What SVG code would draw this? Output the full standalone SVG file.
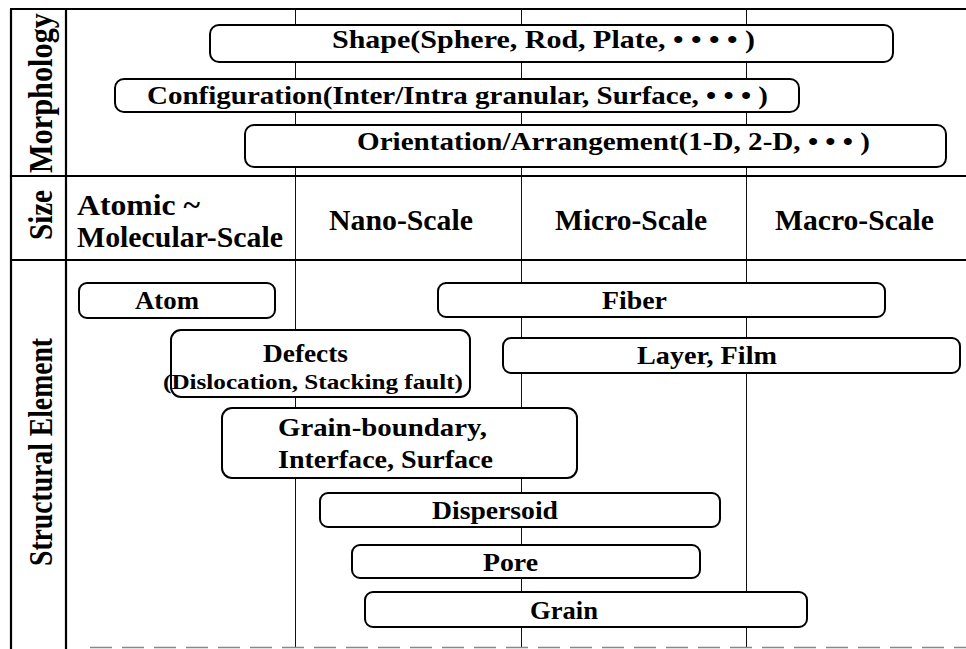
<svg xmlns="http://www.w3.org/2000/svg" width="966" height="649" viewBox="0 0 966 649">
<style>
  .frame { stroke: #000; stroke-width: 2.2; fill: none; }
  .grid { stroke: #111; stroke-width: 1; fill: none; }
  .dash { stroke: #888; stroke-width: 1.5; stroke-dasharray: 22 10; fill: none; }
  .box { fill: #fff; stroke: #000; stroke-width: 2; }
  text { font-family: "Liberation Serif", "Times New Roman", serif; font-weight: bold; fill: #000; }
  .m { font-size: 26px; }
  .s { font-size: 30px; }
  .e { font-size: 26px; }
  .sm { font-size: 21px; }
  .h { font-size: 30px; }
</style>
<rect width="966" height="649" fill="#fff"/>
<g id="grid">
  <line class="grid" x1="295.5" y1="9" x2="295.5" y2="648"/>
  <line class="grid" x1="521.5" y1="9" x2="521.5" y2="648"/>
  <line class="grid" x1="746.5" y1="9" x2="746.5" y2="648"/>
  <line class="dash" x1="90" y1="647.5" x2="966" y2="647.5"/>
  <line class="frame" x1="10" y1="9" x2="966" y2="9"/>
  <line class="frame" x1="11" y1="9" x2="11" y2="649"/>
  <line class="frame" x1="66" y1="9" x2="66" y2="649" stroke-width="2.6"/>
  <line class="frame" x1="10" y1="176" x2="966" y2="176"/>
  <line class="frame" x1="10" y1="260" x2="966" y2="260"/>
</g>
<g id="headers">
  <text class="h" text-anchor="middle" textLength="160" lengthAdjust="spacingAndGlyphs" transform="translate(52,93) scale(1.15,1) rotate(-90)">Morphology</text>
  <text class="h" text-anchor="middle" textLength="50" lengthAdjust="spacingAndGlyphs" transform="translate(52,215) scale(1.15,1) rotate(-90)">Size</text>
  <text class="h" text-anchor="middle" textLength="228" lengthAdjust="spacingAndGlyphs" transform="translate(52,452) scale(1.15,1) rotate(-90)">Structural Element</text>
</g>
<g id="size-labels">
  <text class="s" x="77" y="215" textLength="123" lengthAdjust="spacingAndGlyphs">Atomic ~</text>
  <text class="s" x="77" y="247" textLength="206" lengthAdjust="spacingAndGlyphs">Molecular-Scale</text>
  <text class="s" x="329" y="230" textLength="144" lengthAdjust="spacingAndGlyphs">Nano-Scale</text>
  <text class="s" x="555" y="230" textLength="152" lengthAdjust="spacingAndGlyphs">Micro-Scale</text>
  <text class="s" x="775" y="230" textLength="159" lengthAdjust="spacingAndGlyphs">Macro-Scale</text>
</g>
<g id="shape">
  <rect class="box" x="210" y="25" width="683" height="37" rx="9"/>
  <text class="m" x="332" y="48" textLength="423" lengthAdjust="spacingAndGlyphs">Shape(Sphere, Rod, Plate, • • • •  )</text>
</g>
<g id="configuration">
  <rect class="box" x="115" y="79" width="684" height="33" rx="9"/>
  <text class="m" x="147" y="104" textLength="621" lengthAdjust="spacingAndGlyphs">Configuration(Inter/Intra granular, Surface, • • • )</text>
</g>
<g id="orientation">
  <rect class="box" x="245" y="125" width="701" height="42" rx="9"/>
  <text class="m" x="357" y="150" textLength="513" lengthAdjust="spacingAndGlyphs">Orientation/Arrangement(1-D, 2-D, • • • )</text>
</g>
<g id="atom">
  <rect class="box" x="79" y="283" width="196" height="35" rx="8"/>
  <text class="e" x="135" y="309" textLength="64" lengthAdjust="spacingAndGlyphs">Atom</text>
</g>
<g id="fiber">
  <rect class="box" x="438" y="283" width="447" height="34" rx="8"/>
  <text class="e" x="602" y="309" textLength="65" lengthAdjust="spacingAndGlyphs">Fiber</text>
</g>
<g id="defects">
  <rect class="box" x="171" y="330" width="299" height="67" rx="10"/>
  <text class="e" x="263" y="362" textLength="85" lengthAdjust="spacingAndGlyphs">Defects</text>
  <text class="sm" x="163" y="389" textLength="300" lengthAdjust="spacingAndGlyphs">(Dislocation, Stacking fault)</text>
</g>
<g id="layer-film">
  <rect class="box" x="503" y="338" width="457" height="35" rx="8"/>
  <text class="e" x="637" y="364" textLength="140" lengthAdjust="spacingAndGlyphs">Layer, Film</text>
</g>
<g id="grain-boundary">
  <rect class="box" x="222" y="408" width="355" height="70" rx="10"/>
  <text class="e" x="278" y="436" textLength="209" lengthAdjust="spacingAndGlyphs">Grain-boundary,</text>
  <text class="e" x="278" y="468" textLength="215" lengthAdjust="spacingAndGlyphs">Interface, Surface</text>
</g>
<g id="dispersoid">
  <rect class="box" x="320" y="493" width="400" height="34" rx="8"/>
  <text class="e" x="432" y="519" textLength="126" lengthAdjust="spacingAndGlyphs">Dispersoid</text>
</g>
<g id="pore">
  <rect class="box" x="352" y="545" width="348" height="33" rx="8"/>
  <text class="e" x="483" y="571" textLength="55" lengthAdjust="spacingAndGlyphs">Pore</text>
</g>
<g id="grain">
  <rect class="box" x="365" y="592" width="442" height="35" rx="8"/>
  <text class="e" x="530" y="619" textLength="68" lengthAdjust="spacingAndGlyphs">Grain</text>
</g>
</svg>
